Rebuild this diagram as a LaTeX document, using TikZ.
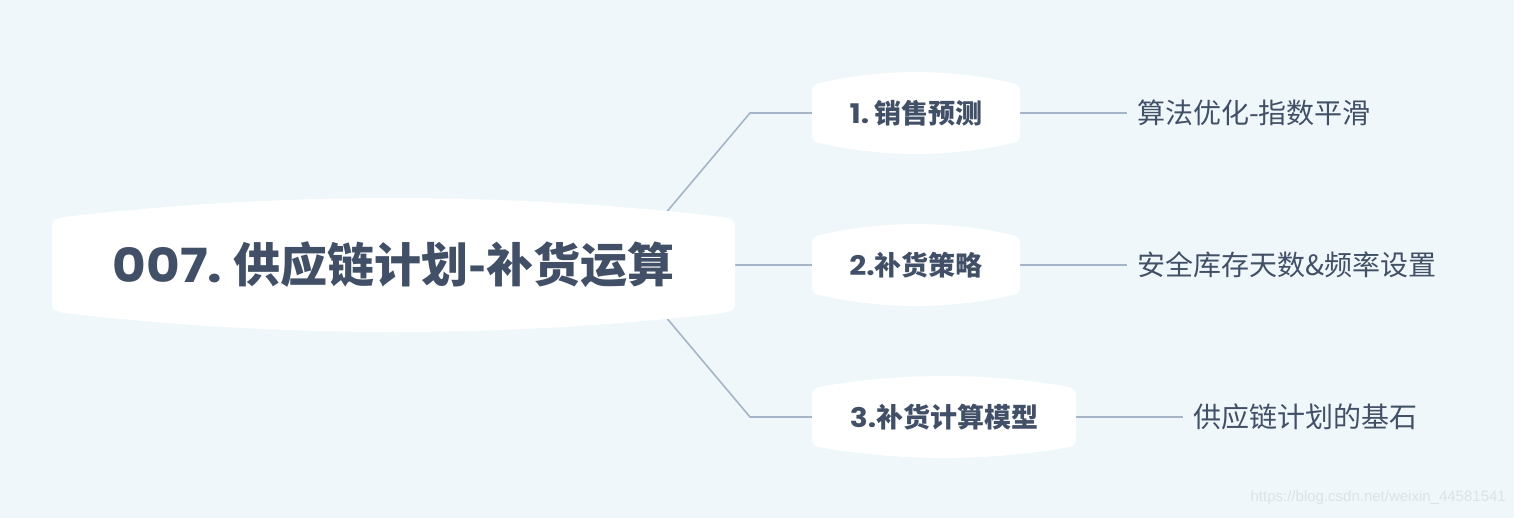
\documentclass[tikz,border=0pt]{standalone}
\usepackage{fontspec}
\newfontfamily\cjk{Noto Sans CJK SC}
\newfontfamily\pop{Poppins}[FakeStretch=1.1]
\newfontfamily\wmfont{Liberation Sans}
\definecolor{bgc}{HTML}{EFF7FA}
\definecolor{txt}{HTML}{414F67}
\definecolor{linec}{HTML}{A5B4C6}
\definecolor{wmc}{HTML}{DCE3E8}
\pgfdeclarelayer{lines}
\pgfdeclarelayer{shapes}
\pgfsetlayers{lines,shapes,main}
\newcommand\drawbubble[5]{%
  \pgfmathsetmacro\bxa{#1}\pgfmathsetmacro\bxb{#2}%
  \pgfmathsetmacro\byt{#3-#4}\pgfmathsetmacro\byb{#3+#4}%
  \pgfmathsetmacro\bytc{(#3-#5-0.25*(#3-#4-3))/0.75}%
  \pgfmathsetmacro\bybc{(#3+#5-0.25*(#3+#4+3))/0.75}%
  \pgfmathsetmacro\bq{(#2-#1-24)/3}%
  \fill[bubblefill] (\bxa,\byt+12) .. controls (\bxa,\byt) .. (\bxa+12,\byt-3)
    .. controls (\bxa+12+\bq,\bytc) and (\bxb-12-\bq,\bytc) .. (\bxb-12,\byt-3)
    .. controls (\bxb,\byt) .. (\bxb,\byt+12) -- (\bxb,\byb-12)
    .. controls (\bxb,\byb) .. (\bxb-12,\byb+3)
    .. controls (\bxb-12-\bq,\bybc) and (\bxa+12+\bq,\bybc) .. (\bxa+12,\byb+3)
    .. controls (\bxa,\byb) .. (\bxa,\byb-12) -- cycle;%
}
\tikzset{
  bubblefill/.style={fill=white},
  conn/.style={draw=linec, line width=1.6pt},
  rootnode/.style={inner sep=0pt, minimum height=90pt, text=txt, font=\fontsize{47}{52}\selectfont\bfseries},
  topic/.style={inner sep=0pt, minimum height=56pt, text=txt, font=\fontsize{27}{32}\selectfont\bfseries},
  leaf/.style={anchor=west, inner xsep=10pt, inner ysep=0pt, text=txt, font=\fontsize{28}{32}\selectfont},
}
\begin{document}
\begin{tikzpicture}[x=1pt,y=-1pt]
\begin{pgfonlayer}{lines}
\fill[bgc] (0,0) rectangle (1514,518);
\end{pgfonlayer}
\useasboundingbox (0,0) rectangle (1514,518);

\node[rootnode, minimum width=683pt] (root) at (393.5,265) {{\pop 007.}\hspace{11pt}{\cjk 供应链计划-补货运算}};
\node[topic, minimum width=208pt] (t1) at (916,113) {{\pop 1.}\hspace{5pt}{\cjk 销售预测}};
\node[topic, minimum width=208pt] (t2) at (916,265) {{\pop 2.}{\cjk 补货策略}};
\node[topic, minimum width=264pt] (t3) at (944,417) {{\pop 3.}{\cjk 补货计算模型}};

\node[leaf] (l1) at (1127,113) {\cjk 算法优化-指数平滑};
\node[leaf] (l2) at (1127,265) {\cjk 安全库存天数\&频率设置};
\node[leaf] (l3) at (1183,417) {\cjk 供应链计划的基石};

\node[anchor=east, inner sep=0pt, text=wmc, font=\wmfont\fontsize{15}{18}\selectfont] (wm) at (1506,498) {https://blog.csdn.net/weixin\_44581541};

\coordinate (hub) at (622,265);
\coordinate (bend) at (750,265);

\begin{pgfonlayer}{shapes}
\drawbubble{52}{735}{265}{45}{67}
\drawbubble{812}{1020}{113}{28}{41}
\drawbubble{812}{1020}{265}{28}{41}
\drawbubble{812}{1076}{417}{28}{41}
\end{pgfonlayer}

\begin{pgfonlayer}{lines}
\draw[conn] (hub) -- (bend |- t1.west) -- (t1.west);
\draw[conn] (root.east) -- (t2.west);
\draw[conn] (hub) -- (bend |- t3.west) -- (t3.west);
\draw[conn] (t1.east) -- (l1.west);
\draw[conn] (t2.east) -- (l2.west);
\draw[conn] (t3.east) -- (l3.west);
\end{pgfonlayer}
\end{tikzpicture}
\end{document}
